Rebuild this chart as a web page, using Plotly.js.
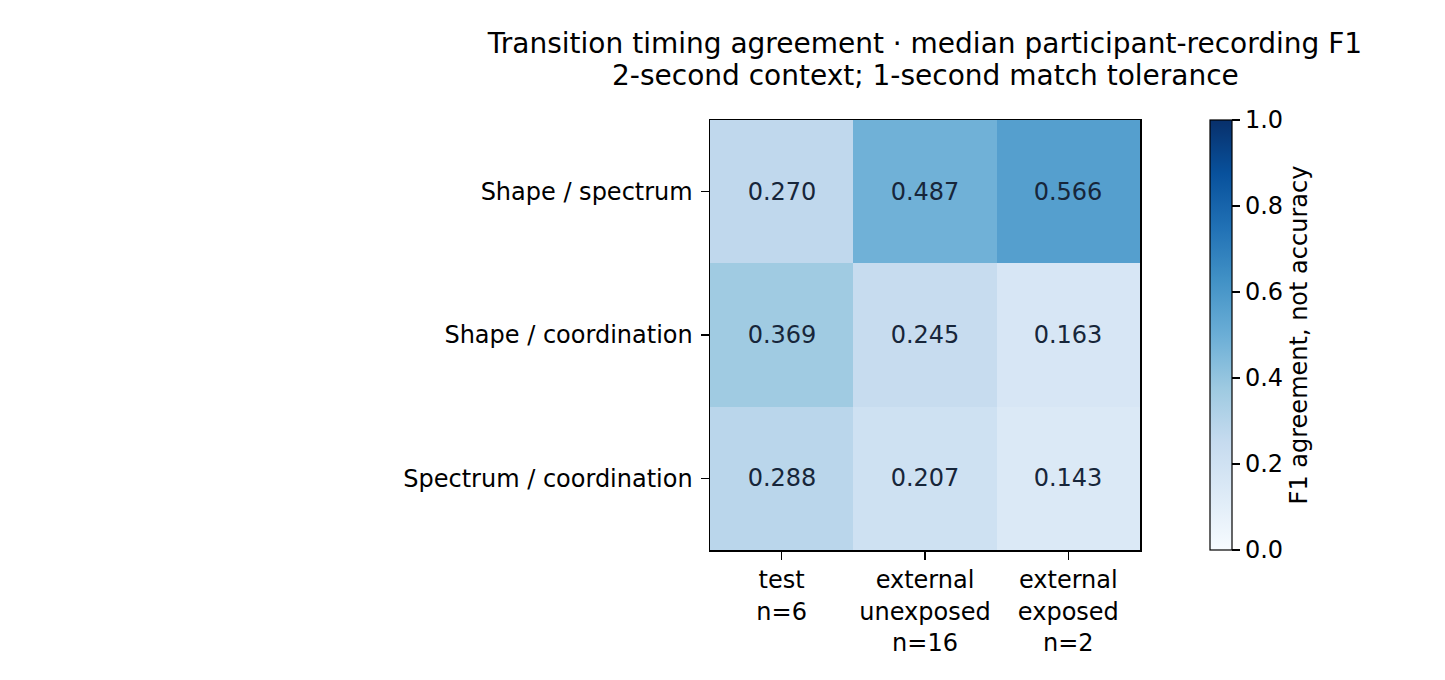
<!DOCTYPE html>
<html>
<head>
<meta charset="utf-8">
<script src="https://cdn.plot.ly/plotly-3.0.1.min.js"></script>
<style>
  html, body { margin: 0; padding: 0; background: #fff; }
  #chart { width: 1445px; height: 680px; }
</style>
</head>
<body>
<div id="chart"></div>
<script>
// Transition timing heatmap — median participant-recording F1

const groups = ['test<br>n=6', 'external<br>unexposed<br>n=16', 'external<br>exposed<br>n=2'];
const comparisons = ['Shape / spectrum', 'Shape / coordination', 'Spectrum / coordination'];

const shapeSpectrum = [0.270, 0.487, 0.566];
const shapeCoordination = [0.369, 0.245, 0.163];
const spectrumCoordination = [0.288, 0.207, 0.143];

const cbTicks = [0, 0.2, 0.4, 0.6, 0.8, 1.0];

// matplotlib "Blues"
const blues = [
  [0.0, '#f7fbff'], [0.125, '#deebf7'], [0.25, '#c6dbef'], [0.375, '#9ecae1'],
  [0.5, '#6baed6'], [0.625, '#4292c6'], [0.75, '#2171b5'], [0.875, '#08519c'], [1.0, '#08306b']
];

const font = 'DejaVu Sans, sans-serif';
const fs = 24;

const data = [{
  type: 'heatmap',
  x: groups,
  y: comparisons,
  z: [shapeSpectrum, shapeCoordination, spectrumCoordination],
  zmin: 0, zmax: 1,
  colorscale: blues,
  texttemplate: '%{z:.3f}',
  textfont: { family: font, size: fs, color: '#17263a' },
  hoverinfo: 'skip',
  colorbar: {
    x: 1.163, xanchor: 'left', xpad: 0,
    y: 0.5, yanchor: 'middle', ypad: 0,
    len: 1, lenmode: 'fraction',
    thickness: 22, thicknessmode: 'pixels',
    outlinewidth: 1.2, outlinecolor: '#000',
    tickvals: cbTicks, tickformat: '.1f',
    ticks: 'outside', ticklen: 8, tickwidth: 1.2, tickcolor: '#000',
    tickfont: { family: font, size: fs, color: '#000' },
    title: { text: 'F1 agreement, not accuracy', side: 'right', font: { family: font, size: fs, color: '#000' } }
  }
}];

const layout = {
  width: 1445, height: 680,
  margin: { l: 710, r: 305, t: 120, b: 130 },
  paper_bgcolor: '#fff', plot_bgcolor: '#fff',
  font: { family: font, color: '#000' },
  title: {
    text: 'Transition timing agreement · median participant-recording F1',
    font: { family: font, size: 28, color: '#000' },
    xref: 'paper', x: 0.5, xanchor: 'center',
    yref: 'container', y: 1 - 43 / 680, yanchor: 'middle'
  },
  annotations: [{
    text: '2-second context; 1-second match tolerance',
    font: { family: font, size: 28, color: '#000' },
    xref: 'paper', x: 0.5, xanchor: 'center',
    yref: 'paper', y: 1 + 45 / 430, yanchor: 'middle',
    showarrow: false
  }],
  xaxis: {
    type: 'category',
    showline: true, mirror: true, linecolor: '#000', linewidth: 1.5,
    ticks: 'outside', ticklen: 8, tickwidth: 1.2, tickcolor: '#000',
    tickfont: { family: font, size: fs, color: '#000' },
    showgrid: false, zeroline: false, fixedrange: true
  },
  yaxis: {
    type: 'category', autorange: 'reversed',
    showline: true, mirror: true, linecolor: '#000', linewidth: 1.5,
    ticks: 'outside', ticklen: 8, tickwidth: 1.2, tickcolor: '#000',
    tickfont: { family: font, size: fs, color: '#000' },
    ticklabelstandoff: 3,
    showgrid: false, zeroline: false, fixedrange: true
  }
};

Plotly.newPlot('chart', data, layout, { displayModeBar: false, staticPlot: true });
</script>
</body>
</html>
